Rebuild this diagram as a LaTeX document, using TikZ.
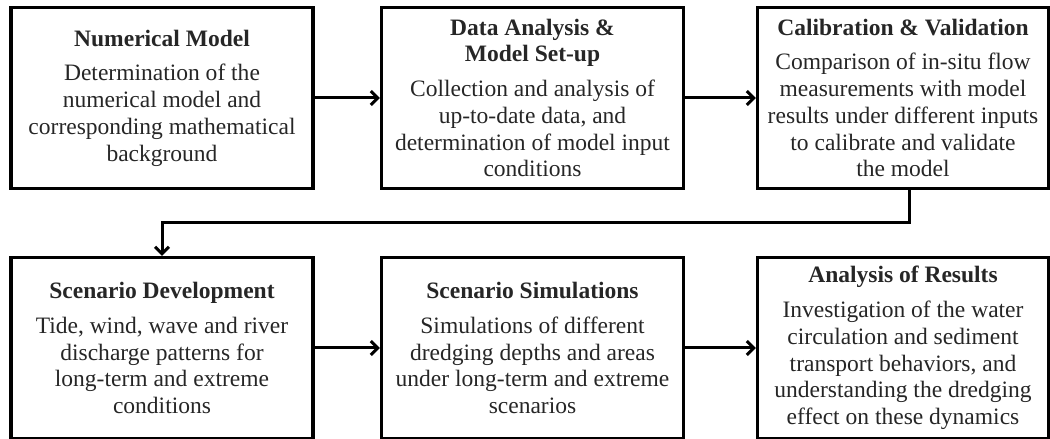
\documentclass[tikz,border=0pt]{standalone}
\usepackage{fontspec}
\setmainfont{Liberation Serif}
\usetikzlibrary{arrows.meta,calc}
\begin{document}
\begin{tikzpicture}[x=1bp,y=-1bp,
  stepbox/.style={draw,line width=3.2bp,rectangle,align=center,inner sep=0pt,
     font=\fontsize{23.6}{26.8}\selectfont,text=black!85},
  arr/.style={line width=3bp,-{Straight Barb[length=7bp,width=14bp,line width=3bp]}}]
\useasboundingbox (0,0) rectangle (1050,439);
\node[stepbox,minimum width=302bp,minimum height=181bp] (a) at (162,98)
  {\textbf{Numerical Model}\\[8bp]Determination of the\\numerical model and\\corresponding mathematical\\background};
\node[stepbox,minimum width=302bp,minimum height=181bp] (b) at (532.5,98)
  {\textbf{Data Analysis \&}\\\textbf{Model Set-up}\\[8bp]Collection and analysis of\\up-to-date data, and\\determination of model input\\conditions};
\node[stepbox,minimum width=291bp,minimum height=181bp] (c) at (903,98)
  {\textbf{Calibration \& Validation}\\[8bp]Comparison of in-situ flow\\measurements with model\\results under different inputs\\to calibrate and validate\\the model};
\node[stepbox,minimum width=302bp,minimum height=181bp] (d) at (162,348)
  {\textbf{Scenario Development}\\[8bp]Tide, wind, wave and river\\discharge patterns for\\long-term and extreme\\conditions};
\node[stepbox,minimum width=302bp,minimum height=181bp] (e) at (532.5,348)
  {\textbf{Scenario Simulations}\\[8bp]Simulations of different\\dredging depths and areas\\under long-term and extreme\\scenarios};
\node[stepbox,minimum width=291bp,minimum height=181bp] (f) at (903,348)
  {\textbf{Analysis of Results}\\[8bp]Investigation of the water\\circulation and sediment\\transport behaviors, and\\understanding the dredging\\effect on these dynamics};
\coordinate (t) at (909,223);
\draw[arr] (a) -- (b);
\draw[arr] (b) -- (c);
\draw[arr] (c.south -| t) -- (t) -| (d.north);
\draw[arr] (d) -- (e);
\draw[arr] (e) -- (f);
\end{tikzpicture}
\end{document}
